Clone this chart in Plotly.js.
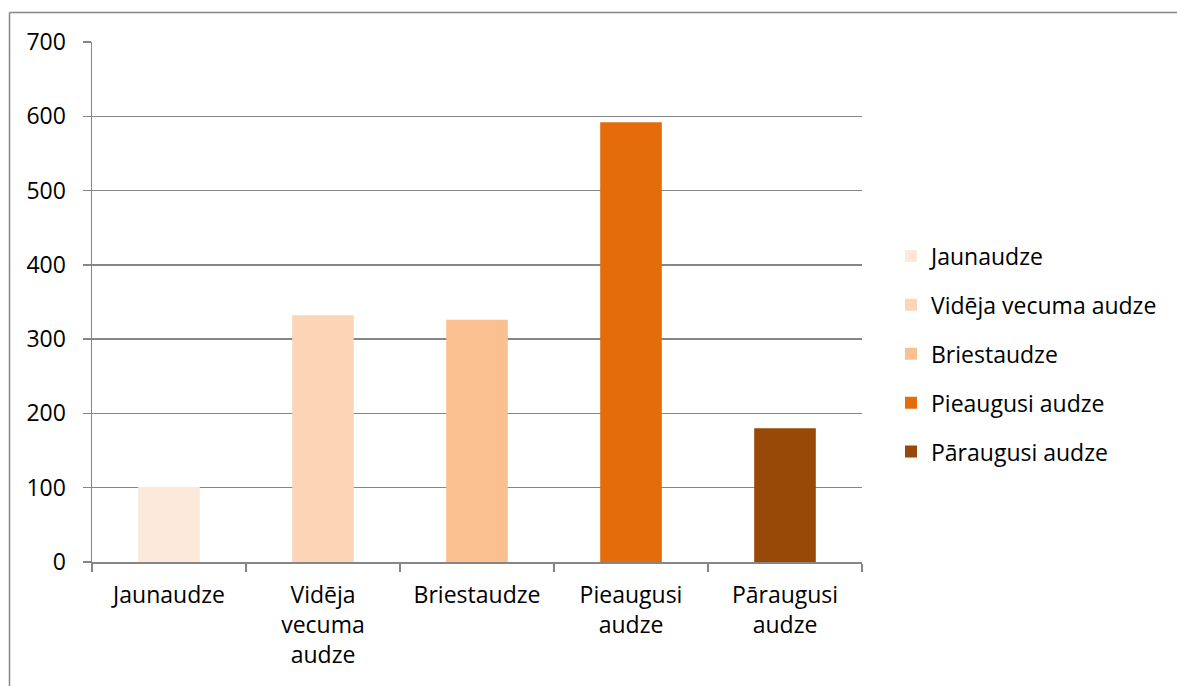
<!DOCTYPE html>
<html>
<head>
<meta charset="utf-8">
<script src="https://cdn.plot.ly/plotly-3.0.1.min.js"></script>
<style>html,body{margin:0;padding:0;background:#fff;}#chart{width:1177px;height:686px;}</style>
</head>
<body>
<div id="chart"></div>
<script>
var categories = ["Jaunaudze", "Vidēja vecuma audze", "Briestaudze", "Pieaugusi audze", "Pāraugusi audze"];
var tickLabels = ["Jaunaudze", "Vidēja<br>vecuma<br>audze", "Briestaudze", "Pieaugusi<br>audze", "Pāraugusi<br>audze"];
var values = [101, 332, 326, 592, 180];
var colors = ["#FCE9DB", "#FBD5B5", "#FAC090", "#E46C0A", "#984807"];
var yTicks = [0, 100, 200, 300, 400, 500, 600, 700];

var W = 1177, H = 686;
var mL = 92, mR = 315, mT = 42, mB = 124;
var pw = W - mL - mR, ph = H - mT - mB;
function px(x) { return (x - mL) / pw; }
function py(y) { return (H - mB - y) / ph; }

var traces = categories.map(function (c, i) {
  return {
    type: "bar",
    name: c,
    x: [c],
    y: [values[i]],
    width: 0.4,
    marker: { color: colors[i], line: { width: 0 } },
    legendgroup: "g" + i,
    hoverinfo: "x+y"
  };
});

var font = { family: "Open Sans, DejaVu Sans, sans-serif", size: 23, color: "#000" };

var layout = {
  width: W, height: H,
  margin: { l: mL, r: mR, t: mT, b: mB, pad: 0 },
  paper_bgcolor: "#fff",
  plot_bgcolor: "#fff",
  font: font,
  barmode: "relative",
  showlegend: true,
  legend: {
    x: px(891), xanchor: "left", xref: "paper",
    y: py(354), yanchor: "middle",
    font: font,
    tracegroupgap: 16,
    itemwidth: 30,
    bgcolor: "rgba(0,0,0,0)"
  },
  xaxis: {
    type: "category",
    categoryorder: "array",
    categoryarray: categories,
    tickvals: categories,
    ticktext: tickLabels,
    tickson: "boundaries",
    ticks: "outside",
    ticklen: 8,
    tickwidth: 1.5,
    tickcolor: "#868686",
    showline: true,
    linecolor: "#868686",
    linewidth: 1.5,
    showgrid: false,
    zeroline: false,
    tickfont: font,
    ticklabelstandoff: 12
  },
  yaxis: {
    range: [0, 700],
    tickvals: yTicks,
    ticktext: yTicks.map(String),
    ticks: "outside",
    ticklen: 8,
    tickwidth: 1.5,
    tickcolor: "#868686",
    showline: true,
    linecolor: "#868686",
    linewidth: 1.5,
    showgrid: true,
    gridcolor: "#868686",
    gridwidth: 1.5,
    zeroline: false,
    tickfont: font,
    ticklabelstandoff: 12
  },
  shapes: [
    { type: "line", xref: "paper", yref: "paper", x0: px(9.5), x1: px(1177), y0: py(12.5), y1: py(12.5), line: { color: "#868686", width: 1.5 } },
    { type: "line", xref: "paper", yref: "paper", x0: px(9.5), x1: px(9.5), y0: py(12.5), y1: py(690), line: { color: "#868686", width: 1.5 } }
  ]
};

Plotly.newPlot("chart", traces, layout, { displayModeBar: false, staticPlot: true });
</script>
</body>
</html>
